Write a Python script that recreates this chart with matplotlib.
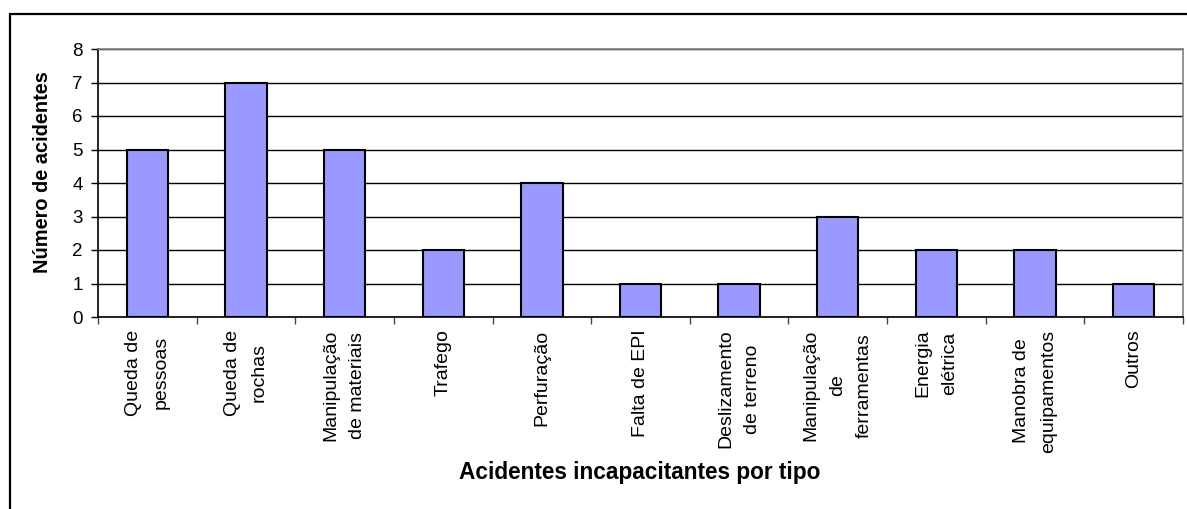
import matplotlib
matplotlib.use("Agg")
import matplotlib.pyplot as plt
from matplotlib.patches import Rectangle
import numpy as np

plt.rcParams['font.family'] = ['Liberation Sans', 'DejaVu Sans']

categories = [
    "Queda de\npessoas",
    "Queda de\nrochas",
    "Manipulação\nde materiais",
    "Trafego",
    "Perfuração",
    "Falta de EPI",
    "Deslizamento\nde terreno",
    "Manipulação\nde\nferramentas",
    "Energia\nelétrica",
    "Manobra de\nequipamentos",
    "Outros",
]
counts = [5, 7, 5, 2, 4, 1, 1, 3, 2, 2, 1]
y_ticks = [0, 1, 2, 3, 4, 5, 6, 7, 8]

W, H = 1187, 509
fig = plt.figure(figsize=(W / 100, H / 100), dpi=100)
fig.patch.set_facecolor("white")

ax = fig.add_axes([98 / W, 1 - 317 / H, (1183 - 98) / W, (317 - 49) / H])
x = np.arange(len(categories))

ax.set_axisbelow(True)
ax.yaxis.grid(True, color="black", linewidth=1.0)
ax.bar(x, counts, width=0.42, color="#9999FF", edgecolor="black", linewidth=1.5, zorder=3)

ax.set_xlim(-0.5, len(categories) - 0.5)
ax.set_ylim(0, 8)
ax.set_yticks(y_ticks)
ax.set_yticklabels([str(v) for v in y_ticks], fontsize=13.5)
ax.tick_params(axis="y", length=5, width=1, pad=6, color="black")

ax.set_xticks(x)
ax.set_xticklabels(categories, rotation=90, fontsize=14, va="top", ha="center",
                   multialignment="center", linespacing=1.75)
ax.tick_params(axis="x", which="major", length=0, pad=9)
ax.set_xticks(np.arange(-0.5, len(categories), 1.0), minor=True)
ax.tick_params(axis="x", which="minor", length=5, width=1, color="#444444")

for side in ("top", "right"):
    ax.spines[side].set_color("#808080")
    ax.spines[side].set_linewidth(1.2)
ax.spines["left"].set_color("black")
ax.spines["bottom"].set_color("black")
ax.spines["left"].set_linewidth(1.2)
ax.spines["bottom"].set_linewidth(1.2)

fig.text(640 / W, 1 - 473 / H, "Acidentes incapacitantes por tipo",
         ha="center", va="center", fontsize=16.3, fontweight="bold")
fig.text(43 / W, 1 - 172 / H, "Número de acidentes", rotation=90,
         ha="center", va="center", fontsize=14.4, fontweight="bold")

# chart frame
fig.add_artist(Rectangle((10 / W, -0.05), 1.1, 1 - 14 / H + 0.05,
                         transform=fig.transFigure, fill=False,
                         edgecolor="black", linewidth=1.6))

fig.savefig("out.png", dpi=100)
